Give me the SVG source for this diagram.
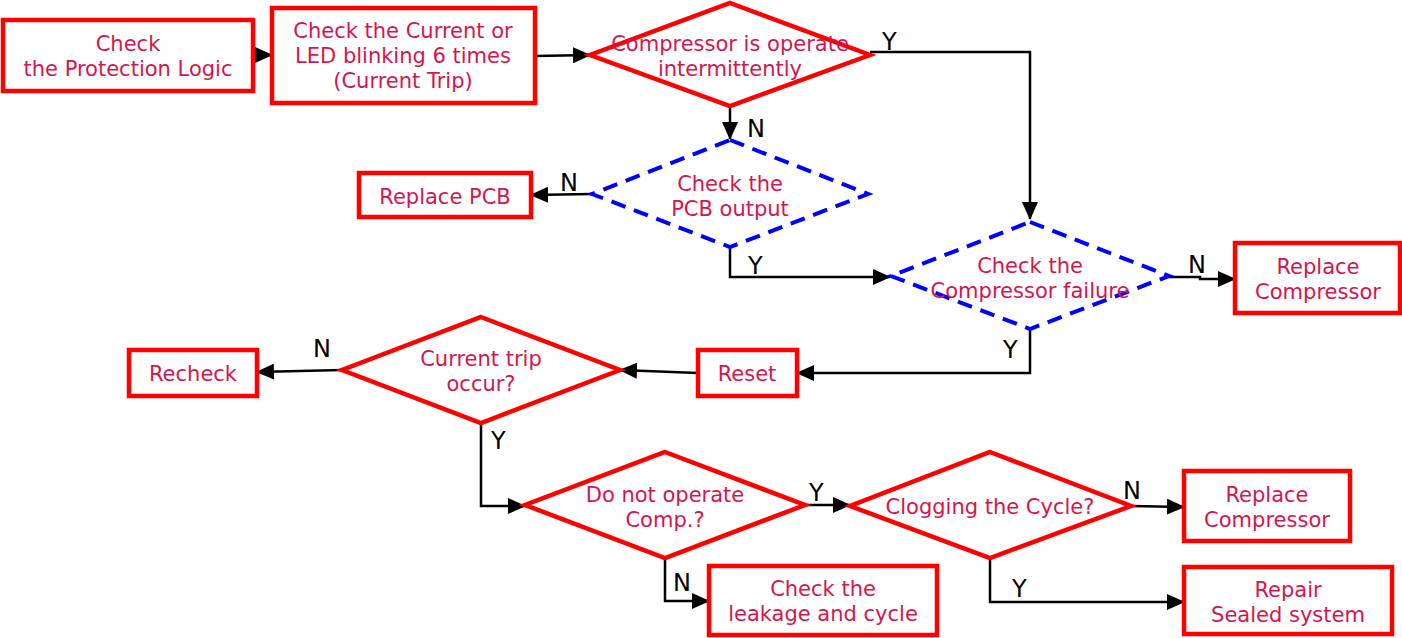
<svg xmlns="http://www.w3.org/2000/svg" width="1402" height="638" viewBox="0 0 1402 638">
<style>
.box{fill:#fff;stroke:#ff0000;stroke-width:4.5}
.dia{fill:#fff;stroke:#ff0000;stroke-width:4.5;stroke-linejoin:miter}
.dash{fill:#fff;stroke:#0000ff;stroke-width:4;stroke-dasharray:15,9}
.t{font-family:"DejaVu Sans",Verdana,sans-serif;font-size:21px;fill:#d6154d;text-anchor:middle}
.lbl{font-family:"DejaVu Sans",Verdana,sans-serif;font-size:24px;fill:#000}
.c{fill:none;stroke:#000;stroke-width:2.5;marker-end:url(#ah)}
</style>
<defs>
<marker id="ah" markerUnits="userSpaceOnUse" markerWidth="18" markerHeight="16" refX="17" refY="8" orient="auto">
<path d="M0,0 L18,8 L0,16 Z" fill="#000"/>
</marker>
</defs>
<rect width="1402" height="638" fill="#fff"/>
<g id="connectors">
<path class="c" d="M253,55 L272,55"/>
<path class="c" d="M535,56 L590,55"/>
<path class="c" d="M870,52 L1030,52 L1030,219"/>
<path class="c" d="M730,106 L730,139"/>
<path class="c" d="M592,194 L531,195"/>
<path class="c" d="M730,247 L730,277 L890,277"/>
<path class="c" d="M1169,277 L1200,277 L1200,279 L1235,279"/>
<path class="c" d="M1030,329 L1030,373 L797,373"/>
<path class="c" d="M698,373 L620,370"/>
<path class="c" d="M342,370 L257,372"/>
<path class="c" d="M481,423 L481,506 L525,506"/>
<path class="c" d="M805,505 L850,505"/>
<path class="c" d="M1131,506 L1184,507"/>
<path class="c" d="M990,558 L990,602 L1184,602"/>
<path class="c" d="M665,558 L665,601 L709,601"/>
<text class="lbl" x="882" y="50">Y</text>
<text class="lbl" x="747" y="137">N</text>
<text class="lbl" x="560" y="191">N</text>
<text class="lbl" x="748" y="274">Y</text>
<text class="lbl" x="1188" y="273">N</text>
<text class="lbl" x="1003" y="358">Y</text>
<text class="lbl" x="313" y="357">N</text>
<text class="lbl" x="491" y="449">Y</text>
<text class="lbl" x="809" y="501">Y</text>
<text class="lbl" x="1123" y="499">N</text>
<text class="lbl" x="1012" y="597">Y</text>
<text class="lbl" x="673" y="591">N</text>
</g>
<g id="n1"><rect class="box" x="3" y="20" width="250" height="71"/><text class="t" x="128" y="51">Check</text><text class="t" x="128" y="76">the Protection Logic</text></g>
<g id="n2"><rect class="box" x="272" y="8" width="263" height="95"/><text class="t" x="403" y="38">Check the Current or</text><text class="t" x="403" y="63">LED blinking 6 times</text><text class="t" x="403" y="88">(Current Trip)</text></g>
<g id="d1"><polygon class="dia" points="730,3 870,55 730,106 590,55"/><text class="t" x="730" y="51">Compressor is operate</text><text class="t" x="730" y="76">intermittently</text></g>
<g id="d2"><polygon class="dash" points="730,140 868,194 730,247 592,194"/><text class="t" x="730" y="191">Check the</text><text class="t" x="730" y="216">PCB output</text></g>
<g id="n3"><rect class="box" x="359" y="173" width="172" height="44"/><text class="t" x="445" y="204">Replace PCB</text></g>
<g id="d3"><polygon class="dash" points="1030,222 1169,276 1030,329 891,276"/><text class="t" x="1030" y="273">Check the</text><text class="t" x="1030" y="298">Compressor failure</text></g>
<g id="n4"><rect class="box" x="1235" y="243" width="165" height="70"/><text class="t" x="1318" y="274">Replace</text><text class="t" x="1318" y="299">Compressor</text></g>
<g id="n5"><rect class="box" x="698" y="350" width="99" height="46"/><text class="t" x="747" y="381">Reset</text></g>
<g id="d4"><polygon class="dia" points="481,317 620,370 481,423 342,370"/><text class="t" x="481" y="366">Current trip</text><text class="t" x="481" y="391">occur?</text></g>
<g id="n6"><rect class="box" x="129" y="350" width="128" height="46"/><text class="t" x="193" y="381">Recheck</text></g>
<g id="d5"><polygon class="dia" points="665,452 805,505 665,558 525,505"/><text class="t" x="665" y="502">Do not operate</text><text class="t" x="665" y="527">Comp.?</text></g>
<g id="d6"><polygon class="dia" points="990,452 1131,506 990,558 850,506"/><text class="t" x="990" y="514">Clogging the Cycle?</text></g>
<g id="n7"><rect class="box" x="1184" y="471" width="166" height="70"/><text class="t" x="1267" y="502">Replace</text><text class="t" x="1267" y="527">Compressor</text></g>
<g id="n8"><rect class="box" x="1184" y="567" width="208" height="67"/><text class="t" x="1288" y="597">Repair</text><text class="t" x="1288" y="622">Sealed system</text></g>
<g id="n9"><rect class="box" x="709" y="566" width="228" height="69"/><text class="t" x="823" y="596">Check the</text><text class="t" x="823" y="621">leakage and cycle</text></g>
</svg>
